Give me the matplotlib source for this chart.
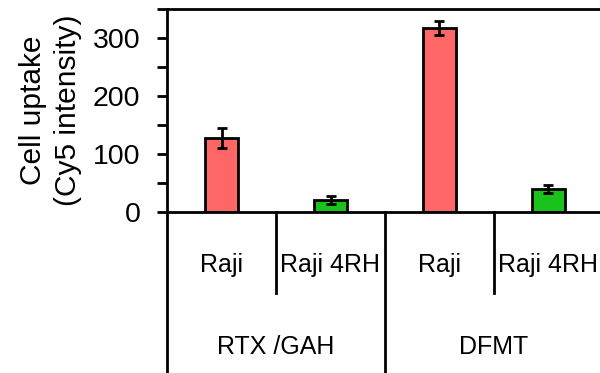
import matplotlib.pyplot as plt
import matplotlib.transforms as mtransforms
import numpy as np

plt.rcParams['font.family'] = ['Liberation Sans', 'DejaVu Sans']

# .. data ..
groups = ["RTX /GAH", "DFMT"]
cells = ["Raji", "Raji 4RH", "Raji", "Raji 4RH"]
uptake = [127, 21, 318, 40]
uptake_err = [17, 7, 12, 7]
bar_colors = ["#ff6666", "#1cc21c", "#ff6666", "#1cc21c"]

fig = plt.figure(figsize=(6.0, 3.73), dpi=100)
ax = fig.add_axes([167 / 600, 1 - 212 / 373, 436 / 600, 203 / 373])

x = np.arange(len(uptake))
ax.bar(x, uptake, width=0.3, color=bar_colors, edgecolor="black", linewidth=2,
       yerr=uptake_err, capsize=3.5,
       error_kw=dict(elinewidth=2, capthick=2, ecolor="black"), zorder=2)

ax.set_xlim(-0.5, 3.5)
ax.set_ylim(0, 350)
ax.set_yticks([0, 100, 200, 300])
ax.set_yticks([50, 150, 250, 350], minor=True)
ax.tick_params(axis="y", which="both", direction="out", length=7, width=2,
               labelsize=20.5, pad=12)
ax.set_xticks([])
for side in ["left", "top", "bottom"]:
    ax.spines[side].set_linewidth(2)
ax.spines["right"].set_visible(False)

ax.set_ylabel("Cell uptake\n(Cy5 intensity)", fontsize=21.5, linespacing=1.3,
              labelpad=8)

# .. two-level category axis drawn below the plot ..
trans = mtransforms.blended_transform_factory(ax.transData, ax.transAxes)
for xb in [-0.5, 1.5, 3.5]:
    ax.plot([xb, xb], [0, -0.8], color="black", lw=2, transform=trans,
            clip_on=False)
for xb in [0.5, 2.5]:
    ax.plot([xb, xb], [0, -0.4], color="black", lw=2, transform=trans,
            clip_on=False)
for xi, name in zip(x, cells):
    ax.text(xi, -0.26, name, transform=trans, ha="center", va="center",
            fontsize=18)
for gi, name in enumerate(groups):
    ax.text(2 * gi + 0.5, -0.665, name, transform=trans, ha="center",
            va="center", fontsize=18)

fig.savefig("out.png", dpi=100)
